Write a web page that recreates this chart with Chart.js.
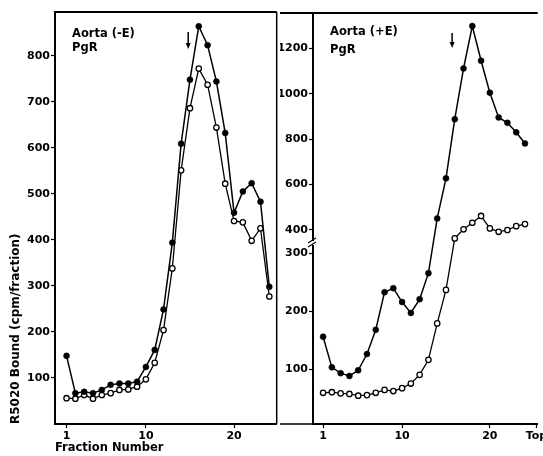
<!DOCTYPE html>
<html><head><meta charset="utf-8">
<script src="https://cdn.jsdelivr.net/npm/chart.js@4/dist/chart.umd.min.js"></script>
<style>
html,body{margin:0;padding:0;background:#fff;}
#wrap{position:relative;width:543px;height:456px;overflow:hidden;background:#fff;}
#cl{position:absolute;left:0;top:0;width:282px;height:456px;}
#cr{position:absolute;left:280px;top:0;width:263px;height:456px;}
</style></head><body>
<div id="wrap"><canvas id="cl" width="282" height="456"></canvas><canvas id="cr" width="263" height="456"></canvas></div>
<script>
const fractions = [1,2,3,4,5,6,7,8,9,10,11,12,13,14,15,16,17,18,19,20,21,22,23,24];
// Aorta (-E) PgR
const minusEFilled = [148,67,70,67,74,85,88,88,92,124,161,249,394,609,748,864,823,744,632,459,505,523,483,298];
const minusEOpen   = [56,55,63,55,63,67,74,75,81,97,133,204,338,551,686,772,737,644,522,441,438,398,425,277];
// Aorta (+E) PgR
const plusEFilled  = [156,103,93,88,98,126,168,233,240,216,197,221,266,450,627,888,1112,1299,1146,1005,896,872,830,781];
const plusEOpen    = [59,60,58,57,54,55,59,64,62,67,75,90,116,179,237,362,402,431,461,406,391,399,416,425];

const leftYTicks = [100,200,300,400,500,600,700,800];
const rightYTicks = [100,200,300,400,600,800,1000,1200];
const leftXTicks = [1,10,20];
const rightXTicks = [1,10,20,25.3];
const rightXTickLabels = ['1','10','20','Top'];
const leftArrowFraction = 14.8;
const rightArrowFraction = 15.7;

// broken right axis: 0-318 linear, then 341+ compressed
const BREAK_LOW = 318, UPPER_VAL = 400, UPPER_DISP = 341, UPPER_K = 0.392;
function toDisp(v){
  if (v <= BREAK_LOW) return v;
  return Math.max(BREAK_LOW, UPPER_DISP + (v - UPPER_VAL) * UPPER_K);
}

Chart.defaults.font.family = '"DejaVu Sans", sans-serif';
Chart.defaults.font.weight = 'bold';
Chart.defaults.font.size = 11;
Chart.defaults.color = '#000';

function filledDs(vals, map){
  return {data: fractions.map((f,i)=>({x:f, y: map(vals[i])})), borderColor:'#000', borderWidth:1.5,
    pointRadius:3, pointBackgroundColor:'#000', pointBorderColor:'#000', pointBorderWidth:0.5, tension:0};
}
function openDs(vals, map){
  return {data: fractions.map((f,i)=>({x:f, y: map(vals[i])})), borderColor:'#000', borderWidth:1.3,
    pointRadius:2.7, pointBackgroundColor:'#fff', pointBorderColor:'#000', pointBorderWidth:1.3, tension:0};
}

const deco = {
  id: 'deco',
  afterDraw(chart, args, o) {
    const {ctx, chartArea: a} = chart;
    ctx.save();
    ctx.strokeStyle = '#000';
    ctx.lineWidth = 2;
    ctx.beginPath();
    ctx.moveTo(o.outerLeft ? 0 : a.left, a.top); ctx.lineTo(a.right, a.top);
    ctx.stroke();
    if (o.outerLeft) {
      ctx.lineWidth = 1.5;
      ctx.beginPath(); ctx.moveTo(0, a.bottom); ctx.lineTo(a.left, a.bottom); ctx.stroke();
    }
    if (o.rightBorder) {
      ctx.lineWidth = 1.5;
      ctx.beginPath(); ctx.moveTo(a.right, a.top); ctx.lineTo(a.right, a.bottom); ctx.stroke();
    }
    // panel labels
    ctx.fillStyle = '#000';
    ctx.font = 'bold 11.5px "DejaVu Sans"';
    ctx.textBaseline = 'alphabetic';
    ctx.textAlign = 'left';
    o.labels.forEach(l => ctx.fillText(l.text, a.left + l.dx, a.top + l.dy));
    // arrow
    const ax = chart.scales.x.getPixelForValue(o.arrowAt);
    ctx.lineWidth = 1.5;
    ctx.beginPath(); ctx.moveTo(ax, a.top + o.arrowTop); ctx.lineTo(ax, a.top + o.arrowBottom - 3); ctx.stroke();
    ctx.beginPath();
    ctx.moveTo(ax - 2.5, a.top + o.arrowBottom - 6);
    ctx.lineTo(ax + 2.5, a.top + o.arrowBottom - 6);
    ctx.lineTo(ax, a.top + o.arrowBottom);
    ctx.closePath(); ctx.fill();
    // axis break marks
    if (o.breakAt != null) {
      const by = chart.scales.y.getPixelForValue(o.breakAt);
      ctx.fillStyle = '#fff';
      ctx.fillRect(a.left - 3, by - 2, 6, 4);
      ctx.lineWidth = 1.2;
      ctx.beginPath();
      ctx.moveTo(a.left - 5, by); ctx.lineTo(a.left + 3, by - 5);
      ctx.moveTo(a.left - 5, by + 4); ctx.lineTo(a.left + 3, by - 1);
      ctx.stroke();
    }
    ctx.restore();
  }
};

// Left chart
new Chart(document.getElementById('cl'), {
  type: 'line',
  data: { datasets: [filledDs(minusEFilled, v=>v), openDs(minusEOpen, v=>v)] },
  options: {
    responsive: false, animation: false,
    layout: { padding: { top: 12, right: 2, left: 0, bottom: 0 } },
    plugins: { legend: {display:false}, tooltip: {enabled:false},
      deco: { labels: [{text:'Aorta (-E)', dx:17, dy:25}, {text:'PgR', dx:17, dy:39}],
              arrowAt: leftArrowFraction, arrowTop: 20, arrowBottom: 37, rightBorder: true } },
    scales: {
      x: { type:'linear', min:-0.31, max:24.84,
        afterBuildTicks: s => { s.ticks = leftXTicks.map(v=>({value:v})); },
        afterFit: s => { s.height = 32; s.paddingLeft = 0; s.paddingRight = 0; },
        ticks: { autoSkip:false, maxRotation:0, padding:2, callback: v => String(v), font:{size:11} },
        grid: { drawOnChartArea:false, drawTicks:true, tickLength:4, tickColor:'#000', tickWidth:1.2 },
        border: { display:true, color:'#000', width:2 },
        title: { display:true, text:'Fraction Number', align:'start', font:{size:11.5, weight:'bold'}, padding:{top:0,bottom:1} }
      },
      y: { type:'linear', min:0, max:895,
        afterBuildTicks: s => { s.ticks = leftYTicks.map(v=>({value:v})); },
        afterFit: s => { s.width = 55; s.paddingTop = 0; s.paddingBottom = 0; },
        ticks: { autoSkip:false, padding:1, callback: v => String(v), font:{size:11} },
        grid: { drawOnChartArea:false, drawTicks:true, tickLength:4, tickColor:'#000', tickWidth:1.2 },
        border: { display:true, color:'#000', width:2 },
        title: { display:true, text:'R5020 Bound (cpm/fraction)', align:'start', font:{size:12, weight:'bold'}, padding:{top:9,bottom:0} }
      }
    }
  },
  plugins: [deco]
});

// Right chart
new Chart(document.getElementById('cr'), {
  type: 'line',
  data: { datasets: [filledDs(plusEFilled, toDisp), openDs(plusEOpen, toDisp)] },
  options: {
    responsive: false, animation: false,
    layout: { padding: { top: 13, right: 0, left: 0, bottom: 0 } },
    plugins: { legend: {display:false}, tooltip: {enabled:false},
      deco: { labels: [{text:'Aorta (+E)', dx:17, dy:21.5}, {text:'PgR', dx:17, dy:40}],
              arrowAt: rightArrowFraction, arrowTop: 20, arrowBottom: 35, outerLeft: true, breakAt: BREAK_LOW } },
    scales: {
      x: { type:'linear', min:-0.15, max:25.45,
        afterBuildTicks: s => { s.ticks = rightXTicks.map(v=>({value:v})); },
        afterFit: s => { s.height = 32; s.paddingLeft = 0; s.paddingRight = 0; },
        ticks: { autoSkip:false, maxRotation:0, padding:2, callback: (v,i) => rightXTickLabels[i], font:{size:11} },
        grid: { drawOnChartArea:false, drawTicks:true, tickLength:4, tickColor:'#000', tickWidth:1.2 },
        border: { display:true, color:'#000', width:2 }
      },
      y: { type:'linear', min:5, max:716,
        afterBuildTicks: s => { s.ticks = rightYTicks.map(v=>({value:toDisp(v)})); },
        afterFit: s => { s.width = 33; s.paddingTop = 0; s.paddingBottom = 0; },
        ticks: { autoSkip:false, padding:1, callback: (v,i) => String(rightYTicks[i]), font:{size:11} },
        grid: { drawOnChartArea:false, drawTicks:true, tickLength:4, tickColor:'#000', tickWidth:1.2 },
        border: { display:true, color:'#000', width:2 }
      }
    }
  },
  plugins: [deco]
});
</script>
</body></html>
